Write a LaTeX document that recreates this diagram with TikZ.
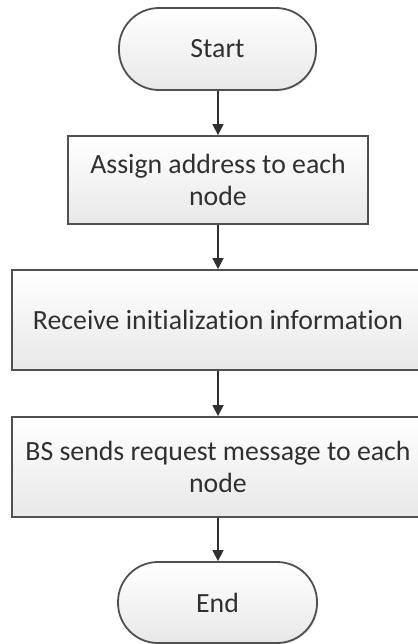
\documentclass[tikz,border=0pt]{standalone}
\usepackage{fontspec}
\setmainfont{Carlito}[Ligatures=NoCommon]
\usetikzlibrary{arrows.meta,shadows}
\definecolor{edgegray}{HTML}{505050}
\definecolor{textgray}{HTML}{303030}
\begin{document}
\begin{tikzpicture}[x=1pt,y=-1pt,
    box/.style={rectangle, draw=edgegray, line width=1.8pt, top color=white, bottom color=gray!18,
      drop shadow={opacity=0.25, shadow xshift=1.2pt, shadow yshift=-1.2pt},
      text=textgray, align=center, font=\fontsize{27.8}{32.5}\selectfont, inner sep=0pt},
    term/.style={box, rounded corners=40pt},
    flow/.style={draw=textgray, line width=1.5pt, -{Triangle[length=11pt,width=11pt]}}]
      \useasboundingbox (0,0) rectangle (417,644);
      % Nodes
      \node (start) [term, minimum width=197pt, minimum height=82pt] at (217.5,49) {Start};
      \node (assign) [box, minimum width=300pt, minimum height=88pt] at (218,180) {Assign address to each\\node};
      \node (receive) [box, minimum width=412pt, minimum height=100pt] at (218,320) {Receive initialization information};
      \node (request) [box, minimum width=412pt, minimum height=100pt] at (218,467) {BS sends request message to each\\node};
      \node (end) [term, minimum width=199pt, minimum height=81pt] at (217.5,602.5) {End};

      % Arrows
      \draw [flow] (start.south -| assign.north) -- (assign);
      \draw [flow] (assign) -- (receive);
      \draw [flow] (receive) -- (request);
      \draw [flow] (request) -- (end.north -| request.south);
  \end{tikzpicture}
\end{document}
